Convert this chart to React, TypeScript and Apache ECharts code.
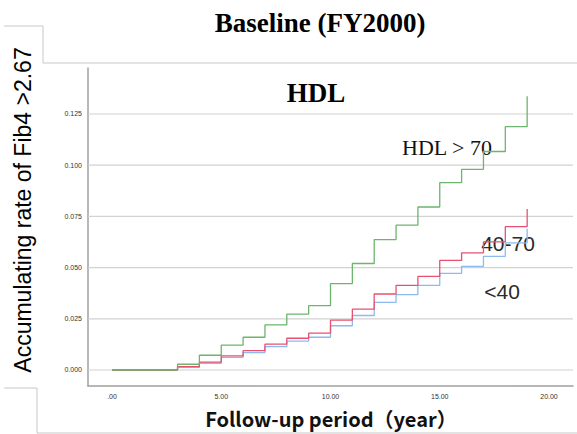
import React, { useEffect, useRef } from "react";
import * as echarts from "echarts";

// Follow-up years at which the cumulative curves step
const years = [0, 3, 4, 5, 6, 7, 8, 9, 10, 11, 12, 13, 14, 15, 16, 17, 18, 19];

// Cumulative rate of Fib4 > 2.67 per HDL group
const rateHdlOver70 = [0, 0.0028, 0.0072, 0.0121, 0.016, 0.022, 0.0273, 0.0314, 0.0422, 0.052, 0.0637, 0.0707, 0.0796, 0.0915, 0.098, 0.1067, 0.1188, 0.1337];
const rateHdl40to70 = [0, 0.0016, 0.0038, 0.0069, 0.0095, 0.0126, 0.0155, 0.018, 0.0244, 0.0297, 0.0371, 0.0413, 0.0457, 0.0535, 0.0572, 0.0626, 0.07, 0.0786];
const rateHdlUnder40 = [0, 0.0013, 0.0033, 0.0062, 0.0085, 0.0114, 0.0141, 0.016, 0.0216, 0.0266, 0.033, 0.0368, 0.0413, 0.0472, 0.0506, 0.0555, 0.0621, 0.069];

// Axis ticks
const xTickValues = [0, 5, 10, 15, 20];
const xTickLabels = [".00", "5.00", "10.00", "15.00", "20.00"];
const yTickValues = [0, 0.025, 0.05, 0.075, 0.1, 0.125];
const yTickLabels = ["0.000", "0.025", "0.050", "0.075", "0.100", "0.125"];

// Axis extents
const X_MIN = -1.098;
const X_MAX = 21.098;
const Y_MIN = -0.0078125;
const Y_MAX = 0.14746;

const pairs = (ys: number[]) => years.map((x, i) => [x, ys[i]]);

const labelFor = (values: number[], labels: string[]) => (v: number) => {
  let best = 0;
  for (let i = 1; i < values.length; i++) {
    if (Math.abs(values[i] - v) < Math.abs(values[best] - v)) best = i;
  }
  return labels[best];
};

const SERIF = '"Liberation Serif", "Times New Roman", serif';
const SANS = '"Liberation Sans", Arial, sans-serif';
const CJK = '"Noto Sans CJK JP", "Noto Sans", sans-serif';
const FRAME = "#c8c8c8";

export default function App() {
  const ref = useRef<HTMLDivElement>(null);

  useEffect(() => {
    if (!ref.current) return;
    const chart = echarts.init(ref.current, null, { renderer: "svg" });

    const stepLine = (name: string, data: number[], color: string) => ({
      type: "line",
      name,
      step: "end",
      data: pairs(data),
      symbol: "none",
      silent: true,
      z: 3,
      lineStyle: { color, width: 1.3 },
    });

    // horizontal reference lines at each y tick, spanning the plot width
    const gridLines = yTickValues.map((v) => ({
      type: "line",
      data: [
        [X_MIN, v],
        [X_MAX, v],
      ],
      symbol: "none",
      silent: true,
      z: 1,
      lineStyle: { color: "#d2d2d2", width: 1.2 },
    }));

    chart.setOption({
      animation: false,
      backgroundColor: "#ffffff",
      grid: { left: 88, right: 4, top: 68, bottom: 48 },
      xAxis: {
        type: "value",
        min: X_MIN,
        max: X_MAX,
        splitLine: { show: false },
        axisTick: { show: false },
        axisLine: { show: true, onZero: false, lineStyle: { color: "#a0a0a0", width: 1.5 } },
        axisLabel: {
          customValues: xTickValues,
          formatter: labelFor(xTickValues, xTickLabels),
          fontSize: 7,
          color: "#333",
          fontFamily: SANS,
          margin: 7,
        },
      },
      yAxis: {
        type: "value",
        min: Y_MIN,
        max: Y_MAX,
        splitLine: { show: false },
        axisTick: { show: false },
        axisLine: { show: true, onZero: false, lineStyle: { color: "#a0a0a0", width: 1.5 } },
        axisLabel: {
          customValues: yTickValues,
          formatter: labelFor(yTickValues, yTickLabels),
          fontSize: 7,
          color: "#333",
          fontFamily: SANS,
          margin: 6,
        },
      },
      series: [
        ...gridLines,
        stepLine("<40", rateHdlUnder40, "#8dbaee"),
        stepLine("40-70", rateHdl40to70, "#e8506f"),
        stepLine("HDL > 70", rateHdlOver70, "#6cb56c"),
      ],
      graphic: [
        // slide frame lines
        {
          type: "polyline",
          silent: true,
          shape: { points: [[4, 26], [43, 26], [43, 63], [577, 63]] },
          style: { stroke: FRAME, lineWidth: 1, fill: null },
        },
        {
          type: "polyline",
          silent: true,
          shape: { points: [[4, 388], [37, 388], [37, 433], [577, 433]] },
          style: { stroke: FRAME, lineWidth: 1, fill: null },
        },
        {
          type: "text",
          x: 320,
          y: 23,
          style: { text: "Baseline (FY2000)", font: `bold 27px ${SERIF}`, fill: "#000", align: "center", verticalAlign: "middle" },
        },
        {
          type: "text",
          x: 316,
          y: 93,
          style: { text: "HDL", font: `bold 27px ${SERIF}`, fill: "#000", align: "center", verticalAlign: "middle" },
        },
        {
          type: "text",
          x: 447,
          y: 147,
          style: { text: "HDL > 70", font: `22px ${SERIF}`, fill: "#111", align: "center", verticalAlign: "middle" },
        },
        {
          type: "text",
          x: 508,
          y: 243,
          style: { text: "40-70", font: `21px ${SANS}`, fill: "#2a2a2a", align: "center", verticalAlign: "middle" },
        },
        {
          type: "text",
          x: 502,
          y: 291,
          style: { text: "<40", font: `21px ${SANS}`, fill: "#2a2a2a", align: "center", verticalAlign: "middle" },
        },
        {
          type: "text",
          x: 23,
          y: 210,
          rotation: Math.PI / 2,
          style: { text: "Accumulating rate of Fib4 >2.67", font: `23px ${SANS}`, fill: "#000", align: "center", verticalAlign: "middle" },
        },
        {
          type: "text",
          x: 331,
          y: 418,
          style: { text: "Follow-up period（year）", font: `bold 20px ${CJK}`, fill: "#111", align: "center", verticalAlign: "middle" },
        },
      ],
    });

    return () => chart.dispose();
  }, []);

  return <div ref={ref} style={{ width: 577, height: 434, position: "absolute", left: 0, top: 0 }} />;
}
